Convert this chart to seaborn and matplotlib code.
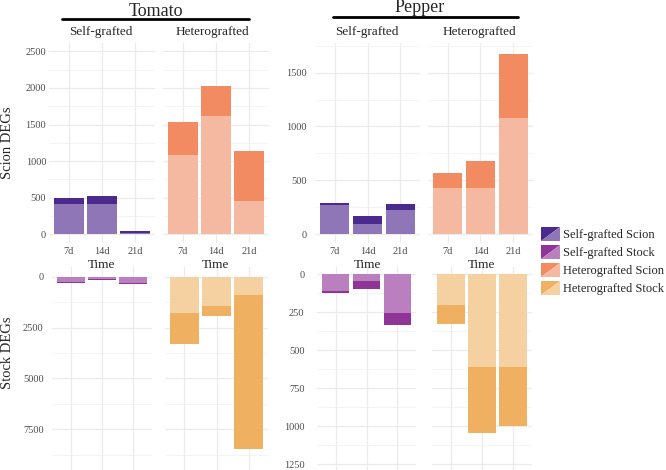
import matplotlib
matplotlib.use('Agg')
import matplotlib.pyplot as plt
from matplotlib.legend_handler import HandlerBase
from matplotlib.patches import Polygon, Patch
from matplotlib.lines import Line2D
import numpy as np
import seaborn as sns

# ---- data ----
times = ['7d', '14d', '21d']

# light = lower part of each stack, dark = upper part
tomato_scion_self_light = [410, 410, 20]
tomato_scion_self_dark = [90, 115, 25]
tomato_scion_het_light = [1080, 1620, 460]
tomato_scion_het_dark = [450, 400, 680]
tomato_stock_self_light = [240, 130, 330]
tomato_stock_self_dark = [60, 35, 30]
tomato_stock_het_light = [1770, 1440, 900]
tomato_stock_het_dark = [1530, 490, 7580]

pepper_scion_self_light = [275, 90, 220]
pepper_scion_self_dark = [10, 83, 62]
pepper_scion_het_light = [430, 430, 1080]
pepper_scion_het_dark = [135, 250, 590]
pepper_stock_self_light = [110, 45, 255]
pepper_stock_self_dark = [15, 50, 80]
pepper_stock_het_light = [200, 610, 610]
pepper_stock_het_dark = [125, 435, 385]

legend_labels = ['Self-grafted Scion', 'Self-grafted Stock',
                 'Heterografted Scion', 'Heterografted Stock']

# colours (dark, light)
col_self_scion = ('#4b2a8e', '#8f77b7')
col_self_stock = ('#8e3597', '#ba7fbf')
col_het_scion = ('#f28a62', '#f5b8a1')
col_het_stock = ('#f0b062', '#f5d0a1')

sns.set_theme(style='whitegrid')
plt.rcParams['font.family'] = ['Liberation Serif', 'DejaVu Serif']

W, H = 666, 470
fig = plt.figure(figsize=(W / 100, H / 100), dpi=100)


def add_panel(l, r, t, b):
    return fig.add_axes([l / W, 1 - b / H, (r - l) / W, (b - t) / H])


def draw_panel(ax, light, dark, colors, ylim, major, minor, invert=False,
               show_y=True, show_x=True, ypad=2):
    totals = list(np.array(light) + np.array(dark))
    sns.barplot(x=times, y=totals, order=times, color=colors[0], width=0.9,
                saturation=1, linewidth=0, ax=ax)
    sns.barplot(x=times, y=light, order=times, color=colors[1], width=0.9,
                saturation=1, linewidth=0, ax=ax)
    ax.set_xlim(-0.6, 2.6)
    if invert:
        ax.set_ylim(ylim[1], ylim[0])
    else:
        ax.set_ylim(ylim[0], ylim[1])
    ax.set_facecolor('white')
    for s in ax.spines.values():
        s.set_visible(False)
    ax.set_yticks(major)
    ax.set_yticks(minor, minor=True)
    ax.grid(True, which='major', color='#ebebeb', linewidth=0.9)
    ax.grid(True, which='minor', axis='y', color='#f2f2f2', linewidth=0.6)
    ax.set_axisbelow(True)
    ax.tick_params(length=0, which='both', colors='#4d4d4d', labelsize=7.5)
    ax.tick_params(axis='y', pad=ypad)
    ax.tick_params(axis='x', pad=3)
    ax.set_xlabel('')
    ax.set_ylabel('')
    if not show_y:
        ax.set_yticklabels([])
    if not show_x:
        ax.set_xticklabels([])


# ---- Tomato ----
ax = add_panel(49, 155, 43, 243)
draw_panel(ax, tomato_scion_self_light, tomato_scion_self_dark, col_self_scion,
           (-119, 2614), np.arange(0, 2501, 500), np.arange(250, 2600, 500))
ax = add_panel(163, 269, 43, 243)
draw_panel(ax, tomato_scion_het_light, tomato_scion_het_dark, col_het_scion,
           (-119, 2614), np.arange(0, 2501, 500), np.arange(250, 2600, 500),
           show_y=False)
ax = add_panel(52, 152, 267, 470)
draw_panel(ax, tomato_stock_self_light, tomato_stock_self_dark, col_self_stock,
           (-476, 9494), np.arange(0, 7501, 2500), np.arange(1250, 9500, 2500),
           invert=True, show_x=False, ypad=6)
ax = add_panel(165, 268, 267, 470)
draw_panel(ax, tomato_stock_het_light, tomato_stock_het_dark, col_het_stock,
           (-476, 9494), np.arange(0, 7501, 2500), np.arange(1250, 9500, 2500),
           invert=True, show_x=False, show_y=False)

# ---- Pepper ----
ax = add_panel(315, 420, 43, 243)
draw_panel(ax, pepper_scion_self_light, pepper_scion_self_dark, col_self_scion,
           (-82, 1775), np.arange(0, 1501, 500), np.arange(250, 1800, 500), ypad=6)
ax = add_panel(428, 533, 43, 243)
draw_panel(ax, pepper_scion_het_light, pepper_scion_het_dark, col_het_scion,
           (-82, 1775), np.arange(0, 1501, 500), np.arange(250, 1800, 500),
           show_y=False)
ax = add_panel(317, 416, 267, 470)
draw_panel(ax, pepper_stock_self_light, pepper_stock_self_dark, col_self_stock,
           (-48, 1287), np.arange(0, 1251, 250), np.arange(125, 1300, 250),
           invert=True, show_x=False, ypad=9)
ax = add_panel(432, 532, 267, 470)
draw_panel(ax, pepper_stock_het_light, pepper_stock_het_dark, col_het_stock,
           (-48, 1287), np.arange(0, 1251, 250), np.arange(125, 1300, 250),
           invert=True, show_x=False, show_y=False)


def ftext(x, y, s, **kw):
    fig.text(x / W, 1 - y / H, s, ha='center', va='center', **kw)


def fline(x0, x1, y):
    fig.add_artist(Line2D([x0 / W, x1 / W], [1 - y / H, 1 - y / H],
                          color='black', linewidth=2))


# group titles
ftext(156, 11, 'Tomato', fontsize=13)
fline(62, 249, 19)
ftext(420, 8, 'Pepper', fontsize=13)
fline(333, 518, 17)

# facet strips
for x, s in [(101, 'Self-grafted'), (212, 'Heterografted'),
             (367, 'Self-grafted'), (479, 'Heterografted')]:
    ftext(x, 32, s, fontsize=9.5)

# x titles
for x in [102, 216, 367, 481]:
    ftext(x, 265, 'Time', fontsize=9.5)

ftext(8, 143, 'Scion DEGs', fontsize=10.5, rotation=90)
ftext(8, 353, 'Stock DEGs', fontsize=10.5, rotation=90)


# legend with split swatches
class SplitHandler(HandlerBase):
    def create_artists(self, legend, orig_handle, xdescent, ydescent,
                       width, height, fontsize, trans):
        x0, y0 = -xdescent, -ydescent
        dark = orig_handle.get_edgecolor()
        light = orig_handle.get_facecolor()
        p1 = Polygon([[x0, y0], [x0, y0 + height], [x0 + width, y0 + height]],
                     closed=True, facecolor=dark, edgecolor='none', transform=trans)
        p2 = Polygon([[x0, y0], [x0 + width, y0], [x0 + width, y0 + height]],
                     closed=True, facecolor=light, edgecolor='none', transform=trans)
        return [p1, p2]


handles = [Patch(facecolor=c[1], edgecolor=c[0]) for c in
           [col_self_scion, col_self_stock, col_het_scion, col_het_stock]]
fig.legend(handles, legend_labels, handler_map={Patch: SplitHandler()},
           loc='center left', bbox_to_anchor=(541 / W, 1 - 261 / H),
           frameon=False, fontsize=9, handlelength=1.55, handleheight=1.35,
           labelspacing=0.32, handletextpad=0.2, borderpad=0, borderaxespad=0)

fig.savefig('out.png', dpi=100)
